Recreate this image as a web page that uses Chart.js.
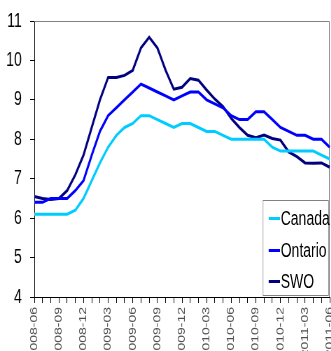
<!DOCTYPE html>
<html>
<head>
<meta charset="utf-8">
<script src="https://cdn.jsdelivr.net/npm/chart.js@4"></script>
<style>
  html, body { margin: 0; padding: 0; background: #fff; overflow: hidden; }
  #outer { position: relative; width: 331px; height: 351px; overflow: hidden; }
  /* the original picture is squeezed sideways, so draw wide and squeeze */
  #wrap { position: absolute; left: 0; top: 0; width: 473px; height: 351px;
          transform: scaleX(0.7); transform-origin: 0 0; }
  #legend {
    position: absolute; left: 375px; top: 200px; width: 93px; height: 94px;
    border: 1px solid #808080; background: #fff;
    font-family: "Liberation Sans", Arial, sans-serif;
    font-size: 20px; color: #000;
  }
  .row { position: absolute; left: 0; height: 24px; display: flex; align-items: center; }
  .mark { width: 16px; height: 3px; margin-left: 8px; }
  .txt { margin-left: 1px; white-space: nowrap; }
</style>
</head>
<body>
<div id="outer">
<div id="wrap">
  <canvas id="chart" width="473" height="351"></canvas>
  <div id="legend"></div>
</div>
</div>
<script>
const months = [
  "2008-06","2008-07","2008-08","2008-09","2008-10","2008-11","2008-12",
  "2009-01","2009-02","2009-03","2009-04","2009-05","2009-06","2009-07",
  "2009-08","2009-09","2009-10","2009-11","2009-12","2010-01","2010-02",
  "2010-03","2010-04","2010-05","2010-06","2010-07","2010-08","2010-09",
  "2010-10","2010-11","2010-12","2011-01","2011-02","2011-03","2011-04",
  "2011-05","2011-06"
];

const seriesNames = ["Canada", "Ontario", "SWO"];
const seriesColors = ["#00ccff", "#0000ff", "#000080"];

const canada = [6.1, 6.1, 6.1, 6.1, 6.1, 6.2, 6.5, 6.95, 7.4, 7.8, 8.1, 8.3, 8.4,
  8.6, 8.6, 8.5, 8.4, 8.3, 8.4, 8.4, 8.3, 8.2, 8.2, 8.1, 8.0, 8.0, 8.0, 8.0,
  8.0, 7.8, 7.7, 7.7, 7.7, 7.7, 7.7, 7.6, 7.5];
const ontario = [6.4, 6.4, 6.5, 6.5, 6.5, 6.7, 6.95, 7.6, 8.2, 8.6, 8.8, 9.0, 9.2,
  9.4, 9.3, 9.2, 9.1, 9.0, 9.1, 9.2, 9.2, 9.0, 8.9, 8.8, 8.6, 8.5, 8.5, 8.7,
  8.7, 8.5, 8.3, 8.2, 8.1, 8.1, 8.0, 8.0, 7.8];
const swo = [6.55, 6.5, 6.47, 6.5, 6.7, 7.1, 7.6, 8.3, 9.0, 9.57, 9.57, 9.62, 9.75,
  10.32, 10.59, 10.32, 9.75, 9.27, 9.32, 9.54, 9.5, 9.25, 9.02, 8.83, 8.53, 8.3,
  8.1, 8.04, 8.11, 8.02, 7.98, 7.68, 7.56, 7.4, 7.39, 7.4, 7.29];

const yMin = 4, yMax = 11, yStep = 1;

const allSeries = [canada, ontario, swo];

// grey frame on top and right of the plot
const frame = {
  id: "frame",
  beforeDatasetsDraw(chart) {
    const { ctx, chartArea: a } = chart;
    ctx.save();
    ctx.strokeStyle = "#808080";
    ctx.lineWidth = 1;
    ctx.beginPath();
    ctx.moveTo(a.left, a.top + 0.5);
    ctx.lineTo(a.right - 0.5, a.top + 0.5);
    ctx.lineTo(a.right - 0.5, a.bottom);
    ctx.stroke();
    ctx.restore();
  }
};

new Chart(document.getElementById("chart"), {
  type: "line",
  data: {
    labels: months,
    datasets: seriesNames.map((name, i) => ({
      label: name,
      data: allSeries[i],
      borderColor: seriesColors[i],
      backgroundColor: seriesColors[i],
      borderWidth: 3,
      pointRadius: 0,
      tension: 0,
      fill: false
    }))
  },
  options: {
    responsive: false,
    animation: false,
    layout: { padding: { top: 21, right: 2, left: 0, bottom: 0 } },
    plugins: { legend: { display: false }, tooltip: { enabled: false } },
    scales: {
      x: {
        offset: false,
        grid: { drawOnChartArea: false, tickLength: 6, color: "#000" },
        border: { color: "#000", width: 1 },
        ticks: {
          autoSkip: false,
          minRotation: 90,
          maxRotation: 90,
          padding: 4,
          color: "#505050",
          font: { family: "Liberation Sans", size: 14 },
          callback: (v, i) => (i % 3 === 0 ? months[i] : "")
        },
        afterFit(s) {
          s.height = 54;
          s.paddingLeft = 0;
          s.paddingRight = 0;
        }
      },
      y: {
        min: yMin,
        max: yMax,
        grid: { drawOnChartArea: false, tickLength: 6, color: "#000" },
        border: { color: "#000", width: 1 },
        ticks: {
          stepSize: yStep,
          padding: 12,
          color: "#000",
          font: { family: "Liberation Sans", size: 20 }
        },
        afterFit(s) {
          s.width = 49;
          s.paddingTop = 0;
          s.paddingBottom = 0;
        }
      }
    }
  },
  plugins: [frame]
});

// legend inside the plot, bottom right
const legend = document.getElementById("legend");
const rowTops = [5, 37, 68];
seriesNames.forEach((name, i) => {
  const row = document.createElement("div");
  row.className = "row";
  row.style.top = rowTops[i] + "px";
  const mark = document.createElement("span");
  mark.className = "mark";
  mark.style.background = seriesColors[i];
  const txt = document.createElement("span");
  txt.className = "txt";
  txt.textContent = name;
  row.appendChild(mark);
  row.appendChild(txt);
  legend.appendChild(row);
});
</script>
</body>
</html>
